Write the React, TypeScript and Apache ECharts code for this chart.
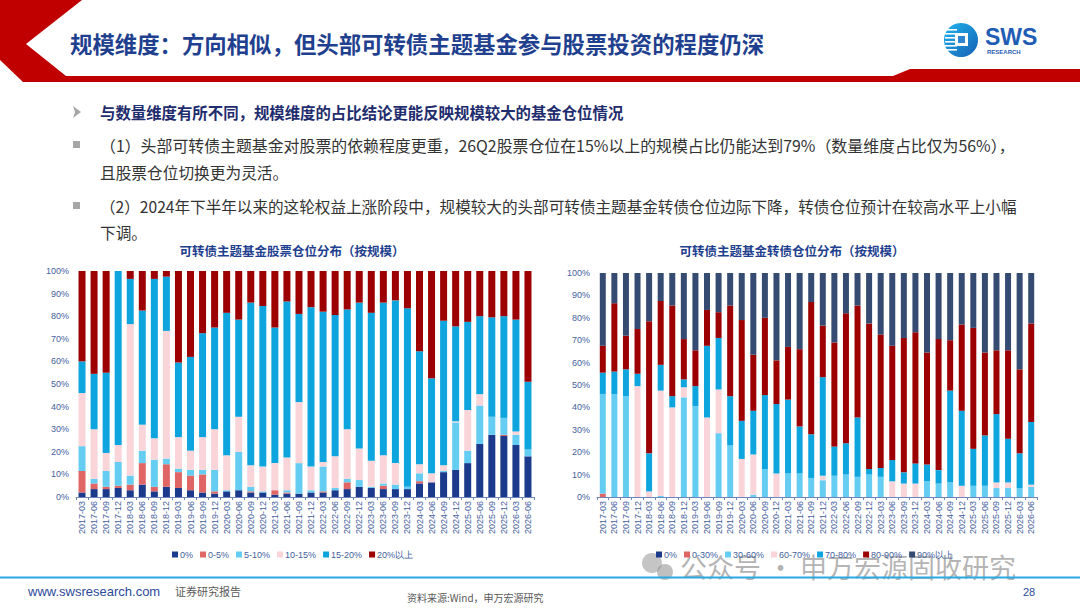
import { useEffect, useRef } from "react";
import * as echarts from "echarts";

const quarters = [
  "2017-03", "2017-06", "2017-09", "2017-12", "2018-03", "2018-06", "2018-09", "2018-12",
  "2019-03", "2019-06", "2019-09", "2019-12", "2020-03", "2020-06", "2020-09", "2020-12",
  "2021-03", "2021-06", "2021-09", "2021-12", "2022-03", "2022-06", "2022-09", "2022-12",
  "2023-03", "2023-06", "2023-09", "2023-12", "2024-03", "2024-06", "2024-09", "2024-12",
  "2025-03", "2025-06", "2025-09", "2025-12", "2026-03", "2026-06",
];

// 股票仓位分布（按规模）
const stockNames = ["0%", "0-5%", "5-10%", "10-15%", "15-20%", "20%以上"];
const stockColors = ["#1b3a8c", "#e06666", "#66cdf2", "#f9d5da", "#0ea5df", "#9c0000"];
const stk0 = [2, 3.5, 3.5, 4, 3, 5.5, 2.5, 4.5, 4, 3, 2, 1.5, 2.5, 3, 2, 2, 1, 1.5, 1.5, 2, 2, 3, 3.5, 4.5, 4, 3.5, 3.5, 3.5, 6, 6.5, 11, 12, 15, 23.5, 27.5, 27, 23, 18];
const stk1 = [9.5, 2.5, 1, 1, 2.5, 9.5, 2, 10, 7, 6.5, 8, 1, 0, 0, 0.5, 0, 2, 0.5, 0, 0, 0.5, 0, 3, 0, 0, 1.5, 0, 0, 1, 0, 0, 0, 0, 0, 0, 0.5, 0, 0];
const stk2 = [11, 2, 7, 10.5, 4, 5.5, 12, 2.5, 1.5, 2.5, 2, 9.5, 0.5, 17, 2, 0.5, 0, 1, 13.5, 1, 11, 1, 1.5, 3, 0.5, 1, 2, 1, 3.5, 0, 0.5, 21, 5.5, 17, 8, 7.5, 4.5, 3];
const stk3 = [23.5, 22, 8, 7.5, 67, 11.5, 9.5, 56.5, 14, 8.5, 14.5, 18, 15.5, 15.5, 9.5, 11, 12, 14.5, 27, 10.5, 2, 14, 22, 14, 11.5, 12.5, 9.5, 0, 4, 4, 2.5, 0.5, 18, 5, 0, 0, 1.5, 0];
const stk4 = [14, 24.5, 35.5, 77, 20, 50.5, 70.5, 24, 33, 41.5, 46, 45, 63, 43, 72, 71, 60, 69, 39, 70.5, 66.5, 62.5, 53, 64.5, 65.5, 67.5, 72, 79, 50, 42, 64, 42, 39, 34.5, 44, 45, 49.5, 30];
const stk5 = [40, 45.5, 45, 0, 3.5, 17.5, 3.5, 2.5, 40.5, 38, 27.5, 25, 18.5, 21.5, 14, 15.5, 25, 13.5, 19, 16, 18, 19.5, 17, 14, 18.5, 14, 13, 16.5, 35.5, 47.5, 22, 24.5, 22.5, 20, 20.5, 20, 21.5, 49];

// 转债仓位分布（按规模）
const bondNames = ["0%", "0-30%", "30-60%", "60-70%", "70-80%", "80-90%", "90%以上"];
const bondColors = ["#1b3a8c", "#e06666", "#66cdf2", "#f9d5da", "#0ea5df", "#9c0000", "#364b72"];
const bd0 = [0, 0, 0, 0, 0, 0, 0, 0, 0, 0, 0, 0, 0, 0, 0, 0, 0, 0, 0, 0, 0, 0, 0, 0, 0, 0, 0, 0, 0, 0, 0, 0, 0, 0, 0, 0, 0, 0];
const bd1 = [1.5, 0, 0, 0, 0, 0, 0, 0, 0, 0, 0, 0, 0, 0, 0, 0, 0, 0, 0, 0, 0, 0, 0, 0, 0, 0, 0, 0, 0, 0, 0, 0, 0, 0, 0, 0, 0, 0];
const bd2 = [44.5, 46, 45, 0, 0, 0.5, 0, 44.5, 40.5, 0, 28.5, 23, 0, 1, 12.5, 0, 10.5, 10.5, 8.5, 7.5, 9.5, 10, 9, 10, 9, 0, 0, 0, 7, 6, 6.5, 0, 5, 5, 4, 4, 4, 4.5];
const bd3 = [0, 0, 0, 49.5, 2.5, 47, 40, 4.5, 0, 35.5, 19.5, 0, 17, 18, 0, 10.5, 0, 0, 0, 2, 0, 0, 0, 0, 0, 7, 6, 6, 0, 0, 0, 5, 0, 0, 2.5, 2.5, 0, 1];
const bd4 = [9.5, 10, 12, 5.5, 17, 11.5, 5, 3.5, 9, 32, 23, 22, 17, 19.5, 33, 31, 33, 21, 19.5, 44, 13, 14, 26.5, 2.5, 4, 9.5, 5, 9, 7.5, 6, 41, 33.5, 16.5, 22.5, 30.5, 19.5, 15.5, 28];
const bd5 = [12, 30.5, 15, 20, 59, 28.5, 40.5, 18, 16, 16, 11.5, 40.5, 45, 25, 34.5, 19.5, 23.5, 34.5, 59, 23, 46.5, 58, 50, 65, 59.5, 51, 60, 58.5, 50, 58.5, 22.5, 38.5, 54, 37, 28.5, 39.5, 37.5, 44];
const bd6 = [32.5, 13.5, 28, 25, 21.5, 12.5, 14.5, 29.5, 34.5, 16.5, 17.5, 14.5, 21, 36.5, 20, 39, 33, 34, 13, 23.5, 31, 18, 14.5, 22.5, 27.5, 32.5, 29, 26.5, 35.5, 29.5, 30, 23, 24.5, 35.5, 34.5, 34.5, 43, 22.5];

const stockData = [stk0, stk1, stk2, stk3, stk4, stk5];
const bondData = [bd0, bd1, bd2, bd3, bd4, bd5, bd6];

const CJK = "'Noto Sans CJK SC', sans-serif";
const LAT = "'Liberation Sans', Arial, sans-serif";
const axisBlue = "#44619d";

function txt(text: string, x: number, y: number, size: number, fill: string, extra: any = {}) {
  return {
    type: "text",
    silent: true,
    style: {
      text, x, y, fill,
      fontSize: size,
      fontFamily: CJK,
      textVerticalAlign: "middle",
      ...extra,
    },
  };
}

export default function App() {
  const chartRef = useRef<HTMLDivElement>(null);

  useEffect(() => {
    if (!chartRef.current) return;
    const chart = echarts.init(chartRef.current, null, { renderer: "svg" });

    const xAxisBase = (gridIndex: number) => ({
      type: "category",
      gridIndex,
      data: quarters,
      axisLine: { lineStyle: { color: "#6f86bd", width: 1 } },
      axisTick: { show: true, length: 3, lineStyle: { color: "#6f86bd" } },
      axisLabel: { rotate: 90, interval: 0, fontSize: 9, color: axisBlue, fontFamily: LAT, margin: 4 },
    });
    const yAxisBase = (gridIndex: number) => ({
      type: "value",
      gridIndex,
      min: 0,
      max: 100,
      interval: 10,
      axisLine: { show: false },
      axisTick: { show: false },
      splitLine: { show: false },
      axisLabel: { formatter: "{value}%", fontSize: 9, color: axisBlue, fontFamily: LAT, margin: 7 },
    });

    const stockSeries = stockNames.map((name, i) => ({
      name,
      type: "bar",
      stack: "stock",
      xAxisIndex: 0,
      yAxisIndex: 0,
      barWidth: 7,
      itemStyle: { color: stockColors[i] },
      data: stockData[i],
    }));
    const bondSeries = bondNames.map((name, i) => ({
      name: i === 0 ? "0% " : name,
      type: "bar",
      stack: "bond",
      xAxisIndex: 1,
      yAxisIndex: 1,
      barWidth: 6,
      itemStyle: { color: bondColors[i] },
      data: bondData[i],
    }));

    const legendBase = {
      orient: "horizontal",
      top: 545,
      itemWidth: 6,
      itemHeight: 6,
      itemGap: 7,
      icon: "rect",
      textStyle: { fontSize: 9, color: axisBlue, fontFamily: LAT, padding: [0, 0, 0, -3] },
    };

    const option = {
      animation: false,
      backgroundColor: "#ffffff",
      textStyle: { fontFamily: CJK },
      grid: [
        { left: 76, top: 271, width: 458, height: 226 },
        { left: 597, top: 273, width: 440, height: 224 },
      ],
      xAxis: [xAxisBase(0), xAxisBase(1)],
      yAxis: [yAxisBase(0), yAxisBase(1)],
      legend: [
        { ...legendBase, left: 167, data: stockNames },
        { ...legendBase, left: 651, data: bondSeries.map((s) => s.name), formatter: (n: string) => n.trim() },
      ],
      series: [...stockSeries, ...bondSeries],
      graphic: [
        // header red band
        {
          type: "polygon",
          silent: true,
          shape: {
            points: [
              [0, 0], [82, 0], [26, 44], [66, 76], [893, 76], [910, 69],
              [1080, 69], [1080, 82], [23, 82], [0, 60],
            ],
          },
          style: { fill: "#c00000" },
        },
        txt("规模维度：方向相似，但头部可转债主题基金参与股票投资的程度仍深", 70, 43, 22.4, "#1f3f8f", { fontWeight: "bold" }),
        // logo
        {
          type: "circle",
          silent: true,
          shape: { cx: 961, cy: 40, r: 17 },
          style: {
            fill: new echarts.graphic.LinearGradient(0, 0, 1, 1, [
              { offset: 0, color: "#20b4ee" },
              { offset: 1, color: "#1660b4" },
            ]),
          },
        },
        ...[29, 33, 37, 41, 45, 49].map((y) => ({
          type: "rect",
          silent: true,
          shape: { x: 945, y, width: 12, height: 1.6 },
          style: { fill: "#ffffff" },
        })),
        { type: "rect", silent: true, shape: { x: 955, y: 33, width: 13, height: 13 }, style: { fill: "#ffffff" } },
        { type: "rect", silent: true, shape: { x: 958, y: 36, width: 7, height: 7 }, style: { fill: "#2f86d0" } },
        txt("SWS", 985, 37, 23, "#1f5db5", { fontWeight: "bold", fontFamily: LAT }),
        txt("RESEARCH", 987, 52, 6, "#1f5db5", { fontWeight: "bold", fontFamily: LAT }),
        // bullets
        {
          type: "polygon",
          silent: true,
          shape: { points: [[73, 106], [81, 112], [73, 118], [75, 112]] },
          style: { fill: "#a6a6a6" },
        },
        txt("与数量维度有所不同，规模维度的占比结论更能反映规模较大的基金仓位情况", 100, 112, 15.4, "#1f2d6e", { fontWeight: "bold" }),
        { type: "rect", silent: true, shape: { x: 73, y: 141, width: 7, height: 7 }, style: { fill: "#a6a6a6" } },
        txt("（1）头部可转债主题基金对股票的依赖程度更重，26Q2股票仓位在15%以上的规模占比仍能达到79%（数量维度占比仅为56%），", 100, 145, 15.9, "#333333"),
        txt("且股票仓位切换更为灵活。", 100, 172, 15.7, "#333333"),
        { type: "rect", silent: true, shape: { x: 73, y: 202, width: 7, height: 7 }, style: { fill: "#a6a6a6" } },
        txt("（2）2024年下半年以来的这轮权益上涨阶段中，规模较大的头部可转债主题基金转债仓位边际下降，转债仓位预计在较高水平上小幅", 100, 206, 15.6, "#333333"),
        txt("下调。", 100, 232, 15.7, "#333333"),
        // chart titles
        txt("可转债主题基金股票仓位分布（按规模）", 292, 250, 12.5, "#1f3f8f", { fontWeight: "bold", textAlign: "center" }),
        txt("可转债主题基金转债仓位分布（按规模）", 792, 250, 12.5, "#1f3f8f", { fontWeight: "bold", textAlign: "center" }),
        // watermark
        { type: "circle", silent: true, shape: { cx: 652, cy: 563, r: 10 }, style: { fill: "rgba(150,150,150,0.55)" } },
        { type: "circle", silent: true, shape: { cx: 665, cy: 572, r: 8 }, style: { fill: "rgba(150,150,150,0.6)" } },
        txt("公众号 · 申万宏源固收研究", 680, 566, 27, "rgba(130,130,130,0.6)"),
        // footer
        { type: "rect", silent: true, shape: { x: 0, y: 576.5, width: 1080, height: 2 }, style: { fill: "#2aa8e2" } },
        txt("www.swsresearch.com", 28, 591, 13, "#2d4a9a", { fontFamily: LAT }),
        txt("证券研究报告", 175, 591, 11, "#595959"),
        txt("资料来源:Wind，申万宏源研究", 407, 597, 10, "#595959"),
        txt("28", 1023, 592, 11, "#2d4a9a", { fontFamily: LAT }),
      ],
    };

    chart.setOption(option as any);
    return () => {
      chart.dispose();
    };
  }, []);

  return (
    <div
      ref={chartRef}
      style={{ position: "fixed", left: 0, top: 0, width: 1080, height: 608, background: "#fff" }}
    ></div>
  );
}
